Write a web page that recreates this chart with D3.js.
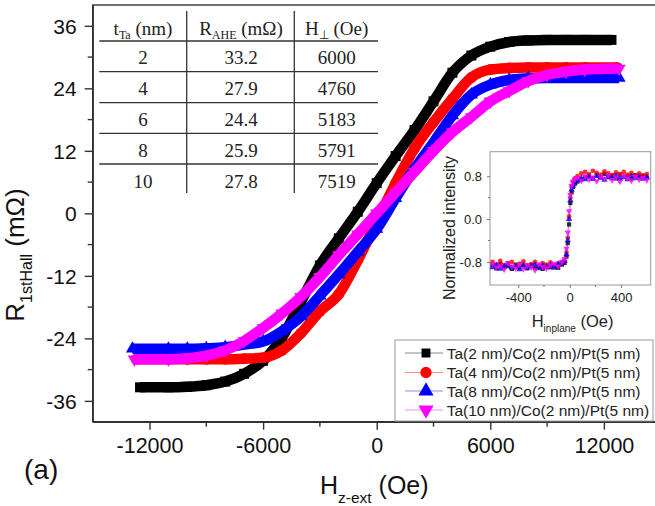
<!DOCTYPE html>
<html><head><meta charset="utf-8">
<script src="https://cdn.jsdelivr.net/npm/d3@7"></script>
<style>html,body{margin:0;padding:0;background:#fff;} svg{display:block;}</style>
</head><body>
<svg id="chart" width="655" height="506"></svg>
<script>
// Hall resistance loops: field (Oe) and R_1stHall (mOhm) for each Ta thickness
const h2  = [-12500,-11000,-10000,-9000,-8000,-7000,-6000,-5000,-4000,-3000,-2000,-1000,0,1000,2000,3000,4000,5000,6000,7000,8000,9000,10000,11000,12400];
const r2  = [-33.4,-33.4,-33.3,-33.0,-32.3,-30.8,-28.3,-23.8,-17.0,-10.0,-4.8,0.3,5.8,11.0,16.0,21.5,27.0,30.3,32.0,32.9,33.2,33.3,33.3,33.3,33.3];
const h4  = [-12700,-11000,-10000,-9000,-8000,-7000,-6000,-5000,-4000,-3000,-2000,-1000,0,1000,2000,3000,4000,5000,6000,7000,8000,9000,10000,11000,12700];
const r4  = [-28.0,-28.0,-28.0,-28.0,-28.0,-27.9,-27.7,-26.3,-23.0,-18.8,-15.5,-9.0,-1.6,5.8,12.5,17.5,22.0,26.1,27.6,27.9,28.0,28.0,28.0,28.0,28.0];
const h8  = [-12900,-11000,-10000,-9000,-8000,-7000,-6000,-5000,-4000,-3000,-2000,-1000,0,1000,2000,3000,4000,5000,6000,7000,8000,9000,10000,11000,12800];
const r8  = [-26.0,-26.0,-26.0,-25.9,-25.7,-25.2,-24.6,-22.6,-19.8,-15.8,-11.7,-7.4,-3.0,2.9,8.6,13.6,18.8,22.8,24.7,25.6,25.9,26.0,26.0,26.0,26.0];
const h10 = [-12800,-11000,-10000,-9000,-8000,-7000,-6000,-5000,-4000,-3000,-2000,-1000,0,1000,2000,3000,4000,5000,6000,7000,8000,9000,10000,11000,12800];
const r10 = [-28.0,-28.0,-27.8,-27.3,-26.3,-24.5,-22.0,-19.2,-16.0,-12.2,-8.0,-4.0,0.0,4.0,8.0,12.0,15.6,18.5,21.5,23.5,25.4,26.6,27.2,27.6,27.8];

const seriesNames  = ["Ta(2 nm)/Co(2 nm)/Pt(5 nm)","Ta(4 nm)/Co(2 nm)/Pt(5 nm)","Ta(8 nm)/Co(2 nm)/Pt(5 nm)","Ta(10 nm)/Co(2 nm)/Pt(5 nm)"];
const seriesColors = ["#000000","#ff0000","#0000ff","#ff00ff"];
const legendLineColors = ["#8a8a8a","#ff8c8c","#8c8cff","#ff8cff"];

const xTicks = [-12000,-6000,0,6000,12000];
const xMinor = [-9000,-3000,3000,9000];
const yTicks = [-36,-24,-12,0,12,24,36];
const yMinor = [-30,-18,-6,6,18,30];

// Summary table
const tTa   = ["2","4","6","8","10"];
const rAHE  = ["33.2","27.9","24.4","25.9","27.8"];
const hPerp = ["6000","4760","5183","5791","7519"];

// Inset: in-plane field sweep (Oe) and normalized intensity
const inField = [-600,-570,-540,-510,-480,-450,-420,-390,-360,-330,-300,-270,-240,-210,-180,-150,-120,-90,-60,-40,-25,-15,-5,5,15,25,40,60,90,120,150,180,210,240,270,300,330,360,390,420,450,480,510,540,570,600];
const in2  = [-0.86,-0.92,-0.84,-0.90,-0.88,-0.93,-0.85,-0.90,-0.87,-0.92,-0.86,-0.91,-0.89,-0.93,-0.87,-0.90,-0.88,-0.91,-0.85,-0.82,-0.70,-0.45,-0.10,0.30,0.50,0.60,0.66,0.70,0.74,0.78,0.80,0.76,0.82,0.79,0.84,0.78,0.81,0.76,0.83,0.79,0.80,0.75,0.82,0.78,0.80,0.77];
const in4  = [-0.80,-0.85,-0.78,-0.86,-0.82,-0.80,-0.88,-0.83,-0.79,-0.86,-0.84,-0.80,-0.87,-0.82,-0.85,-0.81,-0.86,-0.83,-0.80,-0.78,-0.62,-0.35,0.05,0.40,0.60,0.70,0.76,0.80,0.85,0.88,0.84,0.90,0.86,0.83,0.89,0.85,0.82,0.87,0.84,0.88,0.83,0.86,0.81,0.85,0.82,0.84];
const in8  = [-0.90,-0.86,-0.93,-0.88,-0.85,-0.91,-0.89,-0.94,-0.86,-0.90,-0.88,-0.85,-0.92,-0.87,-0.90,-0.86,-0.91,-0.84,-0.82,-0.78,-0.66,-0.40,0.00,0.35,0.55,0.62,0.68,0.72,0.76,0.74,0.79,0.75,0.80,0.77,0.73,0.79,0.76,0.81,0.75,0.78,0.74,0.80,0.76,0.79,0.75,0.78];
const in10 = [-0.84,-0.90,-0.87,-0.94,-0.82,-0.88,-0.92,-0.85,-0.93,-0.87,-0.90,-0.95,-0.84,-0.89,-0.92,-0.86,-0.83,-0.88,-0.80,-0.74,-0.55,-0.25,0.15,0.45,0.62,0.70,0.74,0.77,0.72,0.80,0.74,0.78,0.71,0.79,0.75,0.82,0.73,0.78,0.70,0.80,0.76,0.72,0.79,0.74,0.77,0.73];
const inXTicks = [-400,0,400];
const inXMinor = [-200,200];
const inYTicks = [-0.8,0,0.8];
const inYMinor = [-0.4,0.4];

const svg = d3.select("#chart");
const SANS = "'Liberation Sans', Arial, sans-serif";
const SERIF = "'Liberation Serif', 'Times New Roman', serif";
// plain hyphen-minus for negative tick labels
const plain = d => String(d);
const oneDec = d => d.toFixed(1);

const x = d3.scaleLinear().domain([-15000, 15000]).range([92.7, 660.7]);
const y = d3.scaleLinear().domain([-40, 40]).range([421.7, 5]);

const mainSeries = [[h2,r2],[h4,r4],[h8,r8],[h10,r10]].map((s,i)=>({
  name: seriesNames[i], color: seriesColors[i],
  pts: s[0].map((h,j)=>[h, s[1][j]])
}));

const symbols = [
  d3.symbol().type(d3.symbolSquare),
  d3.symbol().type(d3.symbolCircle),
  d3.symbol().type(d3.symbolTriangle),
  d3.symbol().type(d3.symbolTriangle)
];
const symRot = [0,0,0,180];
const bandSize = [100, 95, 75, 75];

// frame
svg.append("rect").attr("x", x(-15000)).attr("y", y(40))
  .attr("width", x(15000)-x(-15000)).attr("height", y(-40)-y(40))
  .attr("fill","none").attr("stroke","#333").attr("stroke-width",1.4);

// curves: thick band through the points, with the point markers on top
const line = d3.line().x(d=>x(d[0])).y(d=>y(d[1])).curve(d3.curveMonotoneX);
const gCurves = svg.append("g");
mainSeries.forEach((s,i)=>{
  gCurves.append("path").attr("d", line(s.pts)).attr("fill","none")
    .attr("stroke", s.color).attr("stroke-width", 10.5).attr("stroke-linejoin","round");
  gCurves.selectAll(null).data(s.pts).join("path")
    .attr("d", symbols[i].size(bandSize[i])())
    .attr("transform", d=>`translate(${x(d[0])},${y(d[1])}) rotate(${symRot[i]})`)
    .attr("fill", s.color);
});

// axes
const gx = svg.append("g").attr("transform", `translate(0,${y(-40)})`)
  .call(d3.axisBottom(x).tickValues(xTicks).tickFormat(plain).tickSize(8).tickSizeOuter(0));
gx.select(".domain").attr("stroke","#333").attr("stroke-width",1.4);
gx.selectAll(".tick line").attr("stroke","#333").attr("stroke-width",1.4);
gx.selectAll(".tick text").attr("y", 31.3).attr("dy", 0)
  .attr("font-family", SANS).attr("font-size", 21.5).attr("fill","#111");
svg.append("g").selectAll("line").data(xMinor).join("line")
  .attr("x1", d=>x(d)).attr("x2", d=>x(d)).attr("y1", y(-40)).attr("y2", y(-40)+5)
  .attr("stroke","#333").attr("stroke-width",1.4);

const gy = svg.append("g").attr("transform", `translate(${x(-15000)},0)`)
  .call(d3.axisLeft(y).tickValues(yTicks).tickFormat(plain).tickSize(8).tickSizeOuter(0));
gy.select(".domain").attr("stroke","#333").attr("stroke-width",1.4);
gy.selectAll(".tick line").attr("stroke","#333").attr("stroke-width",1.4);
gy.selectAll(".tick text").attr("x", -16).attr("dy", "0.36em")
  .attr("font-family", SANS).attr("font-size", 21).attr("fill","#111");
svg.append("g").selectAll("line").data(yMinor).join("line")
  .attr("x1", x(-15000)-5).attr("x2", x(-15000)).attr("y1", d=>y(d)).attr("y2", d=>y(d))
  .attr("stroke","#333").attr("stroke-width",1.4);

// axis titles
const xt = svg.append("text").attr("x", 320).attr("y", 494)
  .attr("font-family", SANS).attr("font-size", 25).attr("fill","#111");
xt.append("tspan").text("H");
xt.append("tspan").attr("font-size", 15.5).attr("dy", 9).text("z-ext");
xt.append("tspan").attr("dy", -9).text(" (Oe)");

const yt = svg.append("text").attr("transform", "translate(24,255) rotate(-90)")
  .attr("text-anchor","middle").attr("font-family", SANS).attr("font-size", 26).attr("fill","#111");
yt.append("tspan").text("R");
yt.append("tspan").attr("font-size", 16).attr("dy", 8).text("1stHall");
yt.append("tspan").attr("dy", -8).text(" (mΩ)");

svg.append("text").attr("x", 24).attr("y", 479).attr("font-family", SANS)
  .attr("font-size", 28).attr("fill","#111").text("(a)");

// table
const gT = svg.append("g").attr("font-family", SERIF).attr("font-size", 19).attr("fill","#222");
const colX = [143, 241, 336.7];
const rowLines = [41, 71.7, 102.7, 133.3, 164];
gT.selectAll("line.h").data(rowLines).join("line").attr("class","h")
  .attr("x1", 99.3).attr("x2", 378).attr("y1", d=>d).attr("y2", d=>d)
  .attr("stroke","#333").attr("stroke-width",1.3);
gT.selectAll("line.v").data([186.7, 294.3]).join("line").attr("class","v")
  .attr("x1", d=>d).attr("x2", d=>d).attr("y1", 11).attr("y2", 193)
  .attr("stroke","#333").attr("stroke-width",1.3);
const hdr = [["t","Ta"," (nm)"],["R","AHE"," (mΩ)"],["H","⊥"," (Oe)"]];
hdr.forEach((h,i)=>{
  const t = gT.append("text").attr("x", colX[i]).attr("y", 35).attr("text-anchor","middle");
  t.append("tspan").text(h[0]);
  t.append("tspan").attr("font-size", 12).attr("dy", 4).text(h[1]);
  t.append("tspan").attr("dy", -4).text(h[2]);
});
const rowBase = [64.3, 95, 126, 157, 188];
[tTa, rAHE, hPerp].forEach((col,ci)=>{
  gT.selectAll(null).data(col).join("text")
    .attr("x", colX[ci]).attr("y", (d,j)=>rowBase[j]).attr("text-anchor","middle").text(d=>d);
});

// legend
const gL = svg.append("g");
gL.append("rect").attr("x", 395).attr("y", 340).attr("width", 258).attr("height", 81)
  .attr("fill","#fff").attr("stroke","#999").attr("stroke-width",1);
const legY = [353, 372.5, 391, 410];
mainSeries.forEach((s,i)=>{
  gL.append("line").attr("x1", 405).attr("x2", 443).attr("y1", legY[i]).attr("y2", legY[i])
    .attr("stroke", legendLineColors[i]).attr("stroke-width", 1.2);
  gL.append("path").attr("d", symbols[i].size(i===0?80:100)())
    .attr("transform", `translate(426,${legY[i]}) rotate(${symRot[i]})`).attr("fill", s.color);
  gL.append("text").attr("x", 446.7).attr("y", legY[i]).attr("dy","0.36em")
    .attr("font-family", SANS).attr("font-size", 15.5).attr("fill","#222").text(s.name);
});

// inset
const ix = d3.scaleLinear().domain([-620, 630]).range([490, 650.7]);
const iy = d3.scaleLinear().domain([-1.23, 1.257]).range([285, 151.7]);
svg.append("rect").attr("x", 490).attr("y", 151.7).attr("width", 160.7).attr("height", 133.3)
  .attr("fill","#fff").attr("stroke","#999").attr("stroke-width",1);
const inSeries = [in2, in4, in8, in10].map((v,i)=>({
  color: seriesColors[i], pts: inField.map((h,j)=>[h, v[j]])
}));
const inLine = d3.line().x(d=>ix(d[0])).y(d=>iy(d[1]));
const gI = svg.append("g");
inSeries.forEach((s,i)=>{
  gI.append("path").attr("d", inLine(s.pts)).attr("fill","none")
    .attr("stroke", legendLineColors[i]).attr("stroke-width", 0.7);
});
inSeries.forEach((s,i)=>{
  gI.selectAll(null).data(s.pts).join("path")
    .attr("d", symbols[i].size(18)())
    .attr("transform", d=>`translate(${ix(d[0])},${iy(d[1])}) rotate(${symRot[i]})`)
    .attr("fill", s.color).attr("opacity", 0.8);
});
const gix = svg.append("g").attr("transform","translate(0,285)")
  .call(d3.axisBottom(ix).tickValues(inXTicks).tickFormat(plain).tickSize(3).tickSizeOuter(0));
gix.select(".domain").remove();
gix.selectAll(".tick line").attr("stroke","#777");
gix.selectAll(".tick text").attr("y", 16.7).attr("dy", 0)
  .attr("font-family", SANS).attr("font-size", 13).attr("fill","#222");
svg.append("g").selectAll("line").data(inXMinor).join("line")
  .attr("x1", d=>ix(d)).attr("x2", d=>ix(d)).attr("y1", 285).attr("y2", 287)
  .attr("stroke","#777");
const giy = svg.append("g").attr("transform","translate(490,0)")
  .call(d3.axisLeft(iy).tickValues(inYTicks).tickSize(3).tickSizeOuter(0).tickFormat(oneDec));
giy.select(".domain").remove();
giy.selectAll(".tick line").attr("stroke","#777");
giy.selectAll(".tick text").attr("x", -8).attr("dy","0.36em")
  .attr("font-family", SANS).attr("font-size", 13).attr("fill","#222");
svg.append("g").selectAll("line").data(inYMinor).join("line")
  .attr("x1", 488).attr("x2", 490).attr("y1", d=>iy(d)).attr("y2", d=>iy(d))
  .attr("stroke","#777");
svg.append("text").attr("transform","translate(455,228) rotate(-90)")
  .attr("text-anchor","middle").attr("font-family", SANS).attr("font-size", 16)
  .attr("fill","#222").text("Normalized intensity");
const ixt = svg.append("text").attr("x", 531.7).attr("y", 326.7)
  .attr("font-family", SANS).attr("font-size", 16.5).attr("fill","#222");
ixt.append("tspan").text("H");
ixt.append("tspan").attr("font-size", 10).attr("dy", 5).text("inplane");
ixt.append("tspan").attr("dy", -5).text(" (Oe)");
</script>
</body></html>
